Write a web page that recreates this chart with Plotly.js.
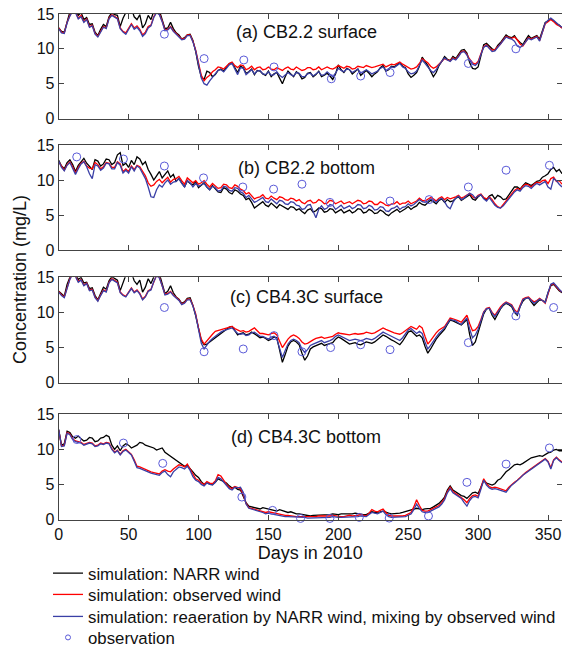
<!DOCTYPE html>
<html>
<head>
<meta charset="utf-8">
<script src="https://cdn.plot.ly/plotly-3.0.1.min.js"></script>
<style>html,body{margin:0;padding:0;background:#fff;}#chart{width:562px;height:648px;}</style>
</head>
<body>
<div id="chart"></div>
<script>
// Days in 2010 (every 2 days)
const DAYS = [0,2,4,6,8,10,12,14,16,18,20,22,24,26,28,30,32,34,36,38,40,42,44,46,48,50,52,54,56,58,
60,62,64,66,68,70,72,74,76,78,80,82,84,86,88,90,92,94,96,98,100,102,104,106,108,110,112,114,116,118,
120,122,124,126,128,130,132,134,136,138,140,142,144,146,148,150,152,154,156,158,160,162,164,166,168,170,172,174,176,178,
180,182,184,186,188,190,192,194,196,198,200,202,204,206,208,210,212,214,216,218,220,222,224,226,228,230,232,234,236,238,
240,242,244,246,248,250,252,254,256,258,260,262,264,266,268,270,272,274,276,278,280,282,284,286,288,290,292,294,296,298,
300,302,304,306,308,310,312,314,316,318,320,322,324,326,328,330,332,334,336,338,340,342,344,346,348,350,352,354,356,358,360];

const PANEL_TITLES = ["(a) CB2.2 surface", "(b) CB2.2 bottom", "(c) CB4.3C surface", "(d) CB4.3C bottom"];
const SERIES_NAMES = ["simulation: NARR wind", "simulation: observed wind", "simulation: reaeration by NARR wind, mixing by observed wind", "observation"];
const X_TICKS = [0,50,100,150,200,250,300,350];
const Y_TICKS = [0,5,10,15];

// (a) CB2.2 surface
const A_NARR = [13.0,12.5,12.4,14.0,15.3,16.0,15.6,14.8,15.2,14.2,
14.5,13.5,13.6,12.4,11.9,12.8,13.5,13.2,14.6,15.2,
14.9,14.8,13.2,14.4,15.4,16.0,15.8,14.6,14.2,14.9,
13.0,13.6,14.8,14.2,15.4,16.0,15.5,14.2,12.9,13.0,
13.8,12.9,12.3,12.0,11.4,11.6,12.0,12.1,11.2,9.6,
7.5,6.0,5.6,6.8,6.6,6.0,6.3,6.9,7.1,6.8,
7.4,7.9,8.0,7.2,6.6,7.5,7.3,6.5,6.7,7.1,
6.3,6.9,6.8,6.4,6.2,6.8,6.0,6.4,6.6,5.8,
5.0,6.0,6.8,6.4,6.0,6.7,6.4,5.7,5.9,6.5,
6.6,6.0,6.3,6.8,6.0,6.2,6.5,6.1,5.6,6.4,
7.7,7.0,6.6,7.2,7.0,6.4,6.7,7.1,6.2,6.6,
6.9,6.5,6.0,6.4,6.7,7.3,7.6,6.8,7.0,7.5,
7.4,7.7,8.0,7.5,7.3,6.4,5.9,6.2,6.6,7.5,
8.8,8.2,7.6,6.8,6.0,6.6,7.6,8.2,8.9,8.5,
8.3,8.9,8.6,9.2,9.8,9.9,9.4,8.0,7.2,7.1,
7.4,9.0,10.6,10.8,10.4,10.0,9.8,10.5,10.9,11.5,
12.0,11.7,11.6,11.9,11.3,10.9,10.6,11.3,11.9,11.5,
11.7,11.9,11.4,12.5,13.8,14.0,14.3,14.0,13.6,13.4,
13.0];
const A_OBSW = [13.0,12.4,12.3,13.8,14.8,15.5,15.3,14.4,14.8,13.9,
14.3,13.2,13.4,12.2,11.8,12.6,13.2,13.0,14.4,14.9,
14.6,14.4,13.0,12.5,12.3,13.0,13.6,13.0,13.3,12.8,
12.0,12.4,13.2,13.4,14.6,15.3,15.0,14.0,12.7,12.8,
13.2,12.6,12.2,11.9,11.4,11.5,12.0,12.0,11.1,9.8,
7.8,6.2,5.4,5.9,6.2,6.7,7.0,7.4,7.3,7.1,
7.5,7.9,8.1,7.6,7.3,7.7,7.6,7.0,7.2,7.5,
7.0,7.3,7.4,7.0,7.1,7.4,7.1,7.0,7.3,7.1,
6.9,7.2,7.4,7.1,7.0,7.4,7.2,6.9,7.0,7.3,
7.3,7.0,7.1,7.4,7.0,7.2,7.4,7.2,7.1,7.3,
7.6,7.4,7.2,7.5,7.4,7.1,7.2,7.5,7.4,7.3,
7.6,7.4,7.3,7.4,7.5,7.7,7.8,7.4,7.6,7.8,
7.7,7.9,8.1,7.8,7.6,7.3,7.1,7.2,7.4,7.9,
8.6,8.3,8.0,7.5,7.2,7.4,7.8,8.2,8.6,8.4,
8.3,8.7,8.5,9.0,9.6,9.7,9.2,8.5,8.0,7.8,
8.2,9.3,10.3,10.6,10.1,9.8,9.9,10.3,10.7,11.3,
11.8,11.6,11.5,11.7,11.3,10.7,10.4,11.0,11.6,11.4,
11.6,11.8,11.2,12.3,13.6,13.9,14.2,13.9,13.5,13.3,
13.0];
const A_MIX = [12.9,12.3,12.2,13.7,14.7,15.4,15.2,14.3,14.6,13.8,
14.2,13.1,13.3,12.1,11.7,12.5,13.1,12.9,14.3,14.8,
14.5,14.3,12.9,12.4,12.1,12.9,13.5,12.8,13.1,12.6,
11.8,12.2,13.0,13.3,14.5,15.2,14.9,13.9,12.6,12.7,
13.1,12.5,12.1,11.8,11.3,11.4,11.9,11.9,11.0,9.7,
7.6,5.8,5.0,4.8,5.4,5.9,6.4,6.9,7.0,6.7,
7.2,7.7,7.9,7.0,6.3,7.3,7.2,6.3,6.6,7.0,
6.4,6.8,6.9,6.4,6.3,6.7,6.2,6.3,6.7,6.2,
5.9,6.2,6.6,6.3,6.1,6.6,6.5,6.0,6.0,6.4,
6.5,6.1,6.4,6.7,6.2,6.3,6.7,6.3,6.0,6.5,
7.2,6.9,6.7,7.1,7.0,6.6,6.8,7.1,6.5,6.7,
7.0,6.7,6.4,6.6,6.8,7.2,7.4,6.9,7.1,7.4,
7.3,7.6,7.9,7.4,7.2,6.7,6.4,6.5,6.8,7.6,
8.4,7.9,7.4,6.9,6.6,7.0,7.7,8.2,8.7,8.4,
8.2,8.6,8.4,8.9,9.5,9.6,9.1,8.3,7.8,7.6,
8.0,9.2,10.2,10.5,10.0,9.6,9.7,10.2,10.6,11.2,
11.7,11.5,11.4,11.1,10.4,10.2,10.5,11.0,11.5,11.3,
11.5,11.7,11.1,12.4,13.7,14.1,14.4,14.1,13.7,13.4,
13.1];
const A_OBS_DAY = [75.6,104,132.4,154,195,216,237,293,327];
const A_OBS_VAL = [12.1,8.6,8.4,7.4,5.7,6.1,6.6,7.9,10.0];

// (b) CB2.2 bottom
const B_NARR = [12.8,12.0,11.6,12.5,12.9,12.2,11.2,12.1,12.6,13.1,
12.4,12.0,11.5,12.9,12.7,12.0,12.3,13.0,12.9,12.2,
12.5,13.6,13.9,12.1,12.4,11.8,12.8,12.2,13.3,13.0,
12.2,12.6,11.5,10.8,10.0,10.6,11.2,10.3,10.8,11.3,
10.4,10.8,9.8,10.2,9.6,9.0,9.9,9.5,9.3,9.8,
8.9,9.3,9.6,9.0,8.6,9.2,8.8,8.3,8.2,8.9,
8.7,8.2,8.0,8.6,8.4,8.0,7.8,7.2,7.4,6.8,
6.0,6.3,6.6,6.9,6.4,6.2,6.7,6.3,6.0,6.5,
6.3,6.0,5.8,6.2,6.1,5.7,5.9,5.5,5.2,5.7,
5.9,5.4,5.6,6.0,5.9,5.4,5.5,5.9,5.8,5.3,
5.6,5.8,5.3,5.5,5.7,5.3,5.5,5.9,5.8,5.3,
5.4,5.8,5.6,5.2,5.3,5.7,5.5,5.1,4.9,5.3,
5.6,5.8,5.4,5.6,5.9,6.2,5.8,6.1,6.3,6.8,
6.5,6.4,6.7,7.1,6.9,6.6,7.1,7.3,6.8,7.2,
6.9,7.0,7.4,7.6,7.1,7.4,7.6,7.9,7.3,7.1,
7.6,7.9,7.4,7.2,7.7,7.9,7.3,7.8,7.6,7.2,
7.3,7.9,8.5,9.0,9.0,8.7,9.2,9.6,9.4,9.2,
9.5,9.8,9.9,10.4,10.6,10.9,11.5,11.8,11.2,11.5,
10.9];
const B_OBSW = [12.6,11.9,11.4,12.2,12.6,11.9,11.0,11.8,12.4,12.7,
12.0,11.7,11.6,12.5,12.2,11.6,11.9,12.5,12.4,11.8,
11.8,12.6,12.3,11.2,11.6,11.2,12.0,11.5,12.1,11.9,
11.3,10.6,9.6,9.1,9.3,9.8,10.1,9.6,10.0,10.4,
9.7,10.1,10.2,10.5,9.9,9.4,10.3,10.0,9.6,9.9,
9.4,9.6,9.9,9.4,9.0,9.5,9.2,8.8,8.9,9.4,
9.3,8.9,8.8,9.3,9.1,8.7,8.5,8.0,8.2,7.8,
7.3,7.5,7.6,7.9,7.4,7.3,7.7,7.4,7.2,7.6,
7.5,7.2,7.1,7.4,7.3,7.0,7.2,6.8,6.6,7.0,
7.1,6.7,6.8,7.2,7.0,6.6,6.7,7.1,7.0,6.6,
6.8,7.0,6.6,6.8,6.9,6.6,6.8,7.1,7.0,6.6,
6.7,7.0,6.9,6.5,6.5,6.9,6.7,6.4,6.3,6.6,
6.6,6.9,6.5,6.7,6.7,7.0,6.6,6.8,7.0,7.4,
7.1,7.0,7.2,7.5,7.3,7.0,7.4,7.6,7.2,7.5,
7.3,7.4,7.6,7.8,7.4,7.6,7.9,8.1,7.6,7.4,
7.8,8.0,7.5,7.3,7.6,7.2,6.6,6.2,6.0,6.5,
7.0,7.5,7.9,8.5,8.8,8.6,9.1,9.4,9.3,9.0,
9.4,9.7,9.6,9.9,10.0,9.5,10.2,10.4,9.8,9.9,
9.4];
const B_MIX = [12.7,11.8,11.3,12.1,12.5,11.7,10.8,11.6,12.3,12.6,
11.9,10.9,10.2,12.2,12.0,11.4,11.7,12.4,12.3,11.6,
11.6,12.5,12.1,11.0,11.4,11.0,11.9,11.3,12.0,11.7,
11.0,10.2,9.0,7.6,7.5,8.6,9.3,9.0,9.6,10.0,
9.4,9.7,9.8,10.2,9.5,9.0,9.9,9.6,9.0,9.5,
9.1,9.3,9.5,9.0,8.6,9.1,8.9,8.4,8.5,9.1,
9.0,8.5,8.4,8.9,8.8,8.3,8.1,7.5,7.8,7.3,
6.8,7.0,7.2,7.5,6.9,6.8,7.3,6.9,6.6,7.1,
7.0,6.6,6.5,6.9,6.8,6.4,6.3,5.8,5.9,6.4,
6.5,5.5,4.6,5.8,6.3,5.8,6.0,6.5,6.4,5.8,
6.1,6.4,5.9,6.1,6.3,5.9,6.1,6.5,6.4,5.9,
6.0,6.4,6.2,5.7,5.8,6.2,6.1,5.6,5.5,5.9,
6.0,6.3,5.8,6.1,6.2,6.6,6.3,6.5,6.8,7.2,
6.9,6.8,7.0,7.3,7.1,6.8,7.2,7.4,6.9,6.2,
5.9,6.8,7.4,7.7,7.2,7.4,7.8,8.1,7.9,7.4,
7.7,7.9,7.3,7.0,7.5,7.0,6.4,6.1,6.0,6.3,
6.8,7.3,7.7,8.3,8.6,8.4,8.9,9.2,9.1,8.8,
9.2,9.5,9.3,9.6,9.8,9.0,8.7,10.2,9.9,9.4,
9.0];
const B_OBS_DAY = [12.9,46.3,75.6,103.6,131.7,153.7,174,194,237,265,293,320,351];
const B_OBS_VAL = [13.3,13.0,12.0,10.3,9.0,8.7,9.4,6.8,7.0,7.2,9.0,11.4,12.1];

// (c) CB4.3C surface
const C_NARR = [13.0,12.6,12.3,14.0,15.3,16.0,15.5,14.7,15.0,14.2,
14.3,13.4,13.5,12.4,11.8,12.8,13.6,13.3,14.5,15.1,
14.8,14.6,13.1,14.3,15.3,16.0,15.7,14.5,14.0,14.6,
12.9,13.6,14.8,14.1,15.3,16.0,15.5,14.0,12.7,13.0,
13.8,12.8,12.2,11.9,11.3,11.5,12.0,12.1,11.0,9.5,
7.5,6.0,5.4,5.5,5.8,6.1,6.4,6.8,7.0,7.3,
7.6,7.9,8.0,7.4,6.8,7.0,7.1,6.8,6.9,7.2,
7.0,6.7,6.4,6.5,6.3,6.0,6.2,6.5,6.4,4.5,
2.9,4.0,5.2,5.8,6.0,5.8,5.4,4.2,3.2,3.8,
4.8,5.1,5.3,5.5,5.6,5.3,5.4,5.6,5.7,6.2,
6.5,6.3,6.0,5.7,5.5,5.6,5.7,5.5,5.4,5.6,
5.8,5.7,5.6,5.8,6.1,6.5,6.8,6.6,6.3,6.1,
5.9,5.6,5.4,5.9,6.6,7.2,7.4,7.0,6.6,6.8,
6.4,5.2,4.2,4.8,5.6,6.2,6.7,7.2,7.6,8.3,
8.9,8.8,8.6,8.4,8.2,8.6,9.0,6.8,5.3,5.8,
7.0,8.5,9.8,10.5,10.6,9.6,9.0,9.8,10.5,11.0,
11.3,11.1,10.8,10.0,9.6,10.8,11.6,12.0,12.1,11.5,
11.0,11.4,11.8,11.7,11.5,12.8,13.8,14.0,13.5,13.1,
12.8];
const C_OBSW = [13.0,12.5,12.2,13.6,14.8,15.5,15.2,14.4,14.7,13.9,
14.2,13.2,13.3,12.2,11.7,12.5,13.2,13.0,14.3,14.8,
14.5,14.3,12.9,12.5,12.3,13.0,13.5,12.9,13.2,12.7,
11.9,12.3,13.1,13.3,14.5,15.3,15.0,13.9,12.6,12.7,
13.0,12.5,12.1,11.8,11.2,11.4,11.9,11.9,11.0,9.8,
7.8,6.2,5.5,6.0,6.5,6.9,7.3,7.4,7.5,7.6,
7.8,7.9,8.0,7.7,7.5,7.3,7.4,7.2,7.3,7.6,
7.8,7.4,7.0,7.0,6.9,6.8,7.0,7.1,6.8,5.8,
5.0,5.6,6.2,6.6,6.8,6.6,6.3,5.8,5.5,5.6,
5.9,6.1,6.3,6.4,6.5,6.3,6.4,6.5,6.6,6.9,
7.1,7.0,6.9,6.8,6.8,6.9,7.0,6.9,6.9,7.0,
7.2,7.1,7.0,7.1,7.3,7.6,7.8,7.6,7.4,7.2,
7.1,7.0,6.9,7.1,7.4,7.8,8.0,7.8,7.6,8.1,
7.8,6.6,5.5,6.0,6.6,7.1,7.5,7.8,8.0,8.6,
9.2,9.1,9.0,8.8,8.6,9.1,9.6,8.4,7.4,7.5,
8.0,9.0,10.1,10.6,10.7,10.0,9.6,10.2,10.8,11.2,
11.5,11.3,11.1,10.4,10.0,11.0,11.9,12.1,12.2,11.8,
11.5,11.7,12.0,11.7,11.3,12.6,13.9,14.1,13.6,13.2,
12.9];
const C_MIX = [12.9,12.4,12.1,13.5,14.7,15.4,15.1,14.3,14.6,13.8,
14.1,13.1,13.2,12.1,11.6,12.4,13.1,12.9,14.2,14.7,
14.4,14.2,12.8,12.4,12.2,12.9,13.4,12.8,13.1,12.6,
11.8,12.2,13.0,13.2,14.4,15.2,14.9,13.8,12.5,12.6,
12.9,12.4,12.0,11.7,11.1,11.3,11.8,11.8,10.9,9.6,
7.6,5.6,4.8,5.4,5.9,6.3,6.6,7.0,7.2,7.4,
7.5,7.7,7.8,7.4,7.0,6.9,7.0,6.7,6.8,7.1,
7.2,6.9,6.6,6.6,6.4,6.2,6.5,6.6,6.2,4.8,
3.6,4.6,5.5,6.0,6.2,6.0,5.7,4.8,4.3,4.7,
5.3,5.5,5.7,5.9,6.0,5.7,5.8,6.0,6.2,6.6,
6.8,6.6,6.4,6.2,6.0,6.1,6.2,6.1,6.0,6.1,
6.3,6.2,6.1,6.3,6.6,7.0,7.2,7.0,6.8,6.6,
6.5,6.2,6.0,6.4,6.9,7.5,7.7,7.3,7.0,7.3,
7.0,5.8,4.8,5.3,6.0,6.5,7.0,7.4,7.8,8.4,
9.0,8.9,8.8,8.5,8.3,8.8,9.2,7.6,6.4,6.8,
7.6,8.8,10.0,10.5,10.6,9.9,9.4,10.0,10.6,11.1,
11.4,11.2,11.0,10.2,9.7,10.8,11.8,12.0,12.1,11.7,
11.3,11.6,11.9,11.7,11.4,12.8,14.0,14.2,13.7,13.3,
12.9];
const C_OBS_DAY = [75.6,104,132,154,174,194.5,216,237,293,327,354];
const C_OBS_VAL = [10.7,4.4,4.8,6.7,4.4,5.0,5.4,4.7,5.7,9.5,10.7];

// (d) CB4.3C bottom
const D_NARR = [12.8,10.6,10.8,12.6,12.4,11.8,11.6,11.9,11.5,11.2,
11.3,11.7,11.6,11.1,11.2,11.6,11.7,12.0,11.8,10.6,
10.0,10.5,9.8,10.5,10.8,10.6,10.2,10.4,10.6,11.0,
10.9,10.6,10.5,10.3,10.2,9.9,10.1,10.2,9.6,9.3,
9.0,8.8,8.4,8.1,7.9,7.6,7.7,7.3,6.8,6.3,
6.0,5.4,5.0,5.2,5.1,5.0,5.3,5.8,5.6,5.4,
5.2,4.8,4.5,4.6,4.3,4.2,3.2,2.4,1.9,1.8,
1.7,1.6,1.5,1.7,1.6,1.5,1.4,1.3,1.2,1.4,
1.3,1.1,1.0,1.1,0.9,0.8,0.8,0.7,0.7,0.6,
0.5,0.6,0.6,0.7,0.7,0.6,0.6,0.7,0.8,0.7,
0.7,0.8,0.8,0.7,0.7,0.8,0.9,0.8,0.8,0.7,
0.7,0.9,1.1,1.0,1.0,1.1,1.2,1.0,0.9,0.8,
0.8,0.8,0.9,1.0,1.1,1.2,1.3,1.5,1.6,1.5,
1.4,1.5,1.5,1.6,1.8,2.0,2.3,2.7,3.2,4.2,
4.8,4.2,3.9,3.6,3.4,3.3,3.0,3.4,3.8,3.9,
3.7,4.6,5.6,5.2,5.0,4.9,5.1,5.6,5.8,6.3,
6.8,7.1,7.4,7.8,7.9,7.8,8.0,8.3,8.5,8.8,
8.9,9.0,9.1,9.0,9.3,9.5,9.6,9.9,10.0,9.8,
9.8];
const D_OBSW = [12.7,10.5,10.6,12.4,12.2,11.5,11.2,11.1,11.0,10.7,
10.8,11.0,10.9,10.5,10.6,10.9,10.8,11.0,10.9,10.1,
9.6,9.9,9.3,9.8,10.0,9.7,9.3,8.5,7.6,7.5,
7.3,7.1,6.9,6.8,6.7,6.6,6.5,6.9,7.1,6.9,
6.8,7.2,7.5,7.8,7.7,7.5,7.9,7.2,6.3,5.8,
5.6,5.2,5.0,5.4,5.2,5.1,5.5,6.4,6.2,5.6,
5.0,4.6,4.4,4.7,4.6,4.4,3.6,2.3,1.7,1.6,
1.5,1.3,1.2,1.1,1.0,1.1,1.0,0.9,0.8,0.8,
0.7,0.6,0.6,0.5,0.5,0.4,0.4,0.4,0.4,0.3,
0.3,0.4,0.4,0.5,0.5,0.4,0.4,0.5,0.6,0.5,
0.5,0.4,0.4,0.5,0.6,0.5,0.5,0.6,0.7,0.6,
0.5,0.9,1.4,1.2,1.1,1.3,1.5,1.0,0.6,0.5,
0.5,0.4,0.4,0.5,0.6,0.8,1.0,1.8,2.8,2.0,
1.3,1.2,1.2,1.4,1.6,1.8,2.0,2.4,3.0,4.0,
4.6,4.0,3.7,3.4,3.2,2.8,2.4,3.0,3.4,3.5,
3.3,4.5,5.8,5.1,4.7,4.5,4.6,4.5,4.4,4.2,
4.1,4.6,5.0,5.3,5.6,6.0,6.4,6.7,7.0,7.3,
7.6,7.9,8.2,8.5,8.7,8.3,7.4,8.5,8.9,8.5,
8.2];
const D_MIX = [12.8,10.4,10.5,12.3,12.1,11.4,11.1,11.0,10.9,10.6,
10.7,10.9,10.8,10.4,10.5,10.8,10.7,10.9,10.8,10.0,
9.5,9.8,9.2,9.7,9.9,9.6,9.2,8.3,7.4,7.3,
7.1,6.9,6.7,6.6,6.5,6.4,6.3,6.7,6.9,6.4,
6.1,6.8,7.2,7.5,7.4,7.2,7.6,7.0,6.1,5.6,
5.4,5.0,4.8,5.2,5.0,4.9,5.3,6.0,5.8,5.3,
4.8,4.4,4.2,4.6,4.5,4.6,3.9,2.2,1.6,1.5,
1.4,1.2,1.1,1.0,0.8,0.9,0.8,0.7,0.6,0.6,
0.5,0.4,0.4,0.4,0.3,0.3,0.3,0.3,0.3,0.2,
0.2,0.3,0.3,0.3,0.3,0.3,0.3,0.3,0.4,0.3,
0.3,0.3,0.3,0.3,0.4,0.3,0.3,0.4,0.5,0.4,
0.4,0.7,1.0,0.9,0.8,1.0,1.2,0.7,0.4,0.3,
0.3,0.3,0.3,0.3,0.4,0.6,0.8,1.4,2.2,1.6,
1.1,1.0,1.0,1.2,1.4,1.6,1.8,2.2,2.8,3.8,
4.4,3.8,3.5,3.2,3.0,2.4,1.9,2.7,3.2,3.3,
3.1,4.3,5.6,4.9,4.5,4.3,4.4,4.3,4.2,4.0,
3.9,4.4,4.9,5.2,5.5,5.9,6.3,6.6,6.9,7.2,
7.5,7.8,8.1,8.4,8.6,8.2,7.2,8.4,8.8,8.4,
8.1];
const D_OBS_DAY = [13,46.3,74.4,131,153,173,194,215,236.4,264.5,292,320,351];
const D_OBS_VAL = [11.4,10.9,8.0,3.2,1.3,0.15,0.15,0.3,0.2,0.5,5.3,7.9,10.2];

const PANELS = [
  [A_NARR, A_OBSW, A_MIX, A_OBS_DAY, A_OBS_VAL],
  [B_NARR, B_OBSW, B_MIX, B_OBS_DAY, B_OBS_VAL],
  [C_NARR, C_OBSW, C_MIX, C_OBS_DAY, C_OBS_VAL],
  [D_NARR, D_OBSW, D_MIX, D_OBS_DAY, D_OBS_VAL]
];

const FONT = '"Liberation Sans", Arial, Helvetica, sans-serif';
const LINE_COLORS = ['#000000', '#ff0000', '#3a3fa6'];
const OBS_COLOR = '#5a5ad8';
const W = 562, H = 648;
const PANEL_PX = [[14, 118.5], [145, 250], [277.3, 382.7], [414.3, 519.5]];
const TITLE_PY = [31.7, 167.5, 296.7, 436.7];
const LEGEND_PY = [573.3, 594.5, 616.5, 637.5];
const LEGEND_IDS = ['legend', 'legend2', 'legend3', 'legend4'];

const traces = [];
PANELS.forEach((p, k) => {
  const xa = k === 0 ? 'x' : 'x' + (k + 1);
  const ya = k === 0 ? 'y' : 'y' + (k + 1);
  for (let s = 0; s < 3; s++) {
    traces.push({
      type: 'scatter', mode: 'lines', x: DAYS, y: p[s], xaxis: xa, yaxis: ya,
      name: SERIES_NAMES[s], showlegend: k === 0, legend: LEGEND_IDS[s],
      line: {color: LINE_COLORS[s], width: 1.3}, hoverinfo: 'skip'
    });
  }
  traces.push({
    type: 'scatter', mode: 'markers', x: p[3], y: p[4], xaxis: xa, yaxis: ya,
    name: SERIES_NAMES[3], showlegend: false, cliponaxis: false,
    marker: {symbol: 'circle-open', size: 8, color: OBS_COLOR, line: {width: 1, color: OBS_COLOR}}
  });
});
// legend-only entry for observation
traces.push({
  type: 'scatter', mode: 'markers', x: [null], y: [null], name: SERIES_NAMES[3],
  showlegend: true, legend: 'legend4',
  marker: {symbol: 'circle-open', size: 5, color: OBS_COLOR, line: {width: 1, color: OBS_COLOR}}
});

const layout = {
  width: W, height: H,
  margin: {l: 0, r: 0, t: 0, b: 0, autoexpand: false},
  paper_bgcolor: '#fff', plot_bgcolor: '#fff',
  font: {family: FONT, size: 16, color: '#111'},
  showlegend: true,
  annotations: [],
};
LEGEND_IDS.forEach((id, i) => {
  layout[id] = {
    x: 48 / W, xanchor: 'left', y: (H - LEGEND_PY[i]) / H, yanchor: 'middle',
    font: {family: FONT, size: 16.8, color: '#111'},
    bgcolor: 'rgba(0,0,0,0)', borderwidth: 0
  };
});

PANEL_PX.forEach((px, k) => {
  const xk = k === 0 ? 'xaxis' : 'xaxis' + (k + 1);
  const yk = k === 0 ? 'yaxis' : 'yaxis' + (k + 1);
  const isLast = k === 3;
  layout[xk] = {
    domain: [58.7 / W, 1], range: [0, 360], anchor: k === 0 ? 'y' : 'y' + (k + 1),
    tickvals: X_TICKS, ticktext: X_TICKS.map(String), showticklabels: isLast,
    ticks: 'inside', ticklen: 5, tickcolor: '#444', tickwidth: 1,
    showline: true, linecolor: '#444', linewidth: 1, mirror: 'ticks',
    showgrid: false, zeroline: false, automargin: false,
    tickfont: {family: FONT, size: 16, color: '#111'},
    title: isLast ? {text: 'Days in 2010', font: {family: FONT, size: 18, color: '#111'}, standoff: 4} : {text: ''}
  };
  layout[yk] = {
    domain: [(H - px[1]) / H, (H - px[0]) / H], range: [0, 15], anchor: k === 0 ? 'x' : 'x' + (k + 1),
    tickvals: Y_TICKS, ticktext: Y_TICKS.map(String),
    ticks: 'inside', ticklen: 5, tickcolor: '#444', tickwidth: 1,
    showline: true, linecolor: '#444', linewidth: 1, mirror: 'ticks',
    showgrid: false, zeroline: false, automargin: false,
    tickfont: {family: FONT, size: 16, color: '#111'}
  };
  layout.annotations.push({
    xref: 'paper', yref: 'paper', x: 306 / W, y: (H - TITLE_PY[k]) / H,
    xanchor: 'center', yanchor: 'middle', showarrow: false,
    text: PANEL_TITLES[k], font: {family: FONT, size: 18, color: '#111'}
  });
});
layout.annotations.push({
  xref: 'paper', yref: 'paper', x: 20 / W, y: (H - 280) / H,
  xanchor: 'center', yanchor: 'middle', showarrow: false, textangle: -90,
  text: 'Concentration (mg/L)', font: {family: FONT, size: 18, color: '#111'}
});

Plotly.newPlot('chart', traces, layout, {staticPlot: true, displayModeBar: false});
</script>
</body>
</html>
